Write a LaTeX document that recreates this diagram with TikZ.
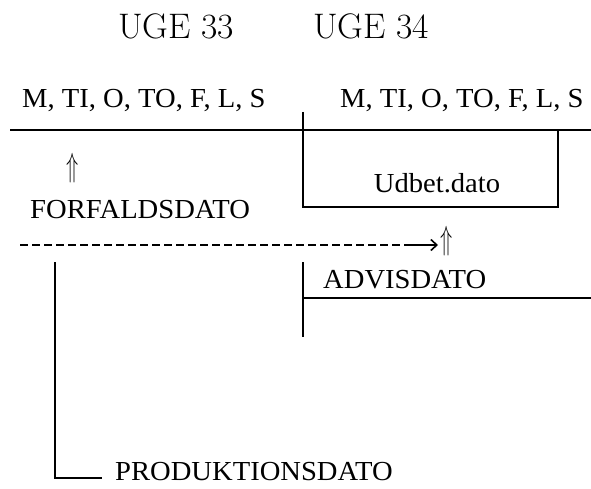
\documentclass[tikz,border=0pt]{standalone}
\usepackage{fontspec}
\newfontfamily\lblfont[FakeStretch=1.04]{Liberation Serif}
\usepackage{graphicx}
\usetikzlibrary{arrows.meta}
\tikzset{
  lbl/.style={font=\lblfont\fontsize{27.5}{32}\selectfont, inner sep=0pt, anchor=base west},
  uge/.style={font=\fontsize{35.5}{40}\selectfont, inner sep=0pt, anchor=base west},
  rule/.style={line width=1.6pt},
  uparr/.style={inner sep=0pt, font=\fontsize{26}{30}\selectfont},
}
\begin{document}
\begin{tikzpicture}[x=1pt,y=-1pt]
\useasboundingbox (0,0) rectangle (591,489);
% headings
\node[uge] (u33) at (118,39) {UGE 33};
\node[uge] (u34) at (313,39) {UGE 34};
\node[lbl] (d1) at (22,108) {M, TI, O, TO, F, L, S};
\node[lbl] (d2) at (340,108) {M, TI, O, TO, F, L, S};
% time axis
\coordinate (l0) at (10,130);
\coordinate (l1) at (591,130);
\draw[rule] (l0) -- (l1);
% payment box
\coordinate (b0) at (303,112);
\coordinate (b1) at (303,207);
\coordinate (b2) at (558,207);
\coordinate (b3) at (558,130);
\draw[rule] (b0) -- (b1) -- (b2) -- (b3);
\node[lbl, anchor=base] (udb) at (437,193) {Udbet.dato};
% forfaldsdato
\node[uparr] (upL) at (73,168) {\scalebox{0.8}[1.35]{$\Uparrow$}};
\node[lbl] (forf) at (30,218) {FORFALDSDATO};
% dashed arrow to advisdato
\node[uparr] (upR) at (447,241) {\scalebox{0.8}[1.35]{$\Uparrow$}};
\coordinate (ds) at (20,245);
\coordinate (dm) at (410,245);
\coordinate (de) at (438,245);
\draw[rule, dash pattern=on 8pt off 4pt] (ds) -- (dm);
\draw[rule, -{Straight Barb[length=6pt,width=11pt]}] (dm) -- (de);
% advisdato
\coordinate (v0) at (303,262);
\coordinate (v1) at (303,337);
\draw[rule] (v0) -- (v1);
\node[lbl] (advis) at (323,288) {ADVISDATO};
\coordinate (a0) at (303,298);
\coordinate (a1) at (591,298);
\draw[rule] (a0) -- (a1);
% produktionsdato
\coordinate (p0) at (55,262);
\coordinate (p1) at (55,478);
\coordinate (p2) at (102,478);
\draw[rule] (p0) -- (p1) -- (p2);
\node[lbl] (prod) at (115,480) {PRODUKTIONSDATO};
\end{tikzpicture}
\end{document}
